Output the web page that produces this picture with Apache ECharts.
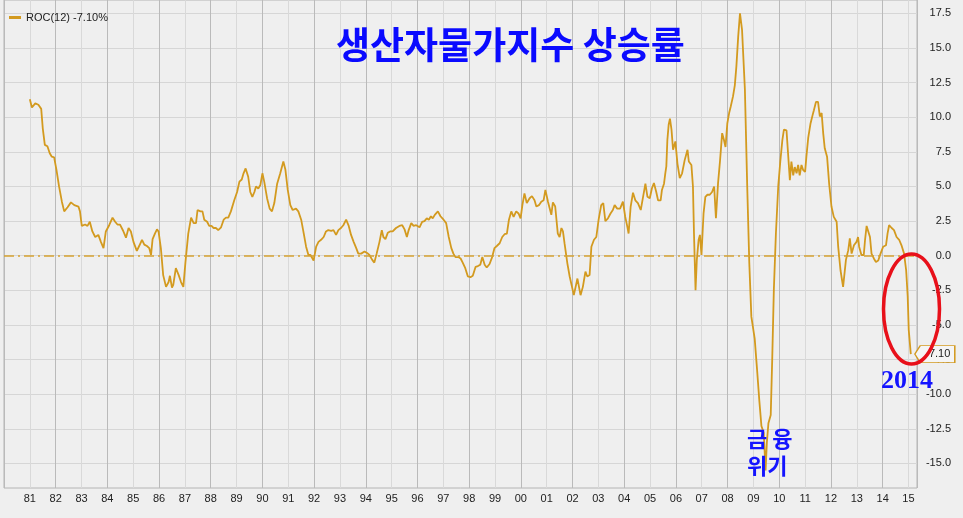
<!DOCTYPE html>
<html>
<head>
<meta charset="utf-8">
<title>생산자물가지수 상승률</title>
<script src="https://cdn.jsdelivr.net/npm/echarts@6/dist/echarts.min.js"></script>
<style>
  html, body { margin: 0; padding: 0; background: #efefef; }
  #chart { width: 963px; height: 518px; }
</style>
</head>
<body>
<div id="chart"></div>
<script>
// 생산자물가지수 ROC(12), 연도(소수) / 값(%)
const years = [
  1981.00, 1981.08, 1981.21, 1981.33, 1981.44, 1981.50, 1981.58, 1981.68, 1981.77, 1981.85, 1981.94,
  1982.03, 1982.13, 1982.24, 1982.33, 1982.46, 1982.59, 1982.72, 1982.88, 1982.94,
  1983.01, 1983.14, 1983.23, 1983.32, 1983.42, 1983.53, 1983.65, 1983.75, 1983.85, 1983.94,
  1984.07, 1984.20, 1984.30, 1984.39, 1984.49, 1984.61, 1984.72, 1984.82, 1984.91,
  1985.01, 1985.14, 1985.23, 1985.34, 1985.43, 1985.53, 1985.62, 1985.69, 1985.75, 1985.84, 1985.92, 1985.98,
  1986.07, 1986.16, 1986.27, 1986.37, 1986.42, 1986.50, 1986.55, 1986.65, 1986.76, 1986.85, 1986.94,
  1987.02, 1987.13, 1987.24, 1987.34, 1987.43, 1987.49, 1987.60, 1987.68, 1987.75, 1987.86, 1987.94,
  1988.03, 1988.11, 1988.20, 1988.29, 1988.40, 1988.50, 1988.59, 1988.68, 1988.78, 1988.91,
  1989.02, 1989.11, 1989.20, 1989.27, 1989.35, 1989.45, 1989.53, 1989.61, 1989.69, 1989.75, 1989.84, 1989.92,
  1990.00, 1990.07, 1990.18, 1990.28, 1990.37, 1990.46, 1990.57, 1990.69, 1990.81, 1990.89, 1990.98,
  1991.08, 1991.17, 1991.30, 1991.39, 1991.50, 1991.60, 1991.69, 1991.78, 1991.86, 1991.91, 1991.98,
  1992.08, 1992.17, 1992.27, 1992.37, 1992.46, 1992.55, 1992.66, 1992.75, 1992.85, 1992.94,
  1993.04, 1993.13, 1993.24, 1993.34, 1993.43, 1993.53, 1993.63, 1993.71, 1993.82, 1993.95,
  1994.05, 1994.14, 1994.25, 1994.33, 1994.42, 1994.53, 1994.62, 1994.68, 1994.76, 1994.85, 1994.94,
  1995.04, 1995.17, 1995.30, 1995.41, 1995.50, 1995.59, 1995.66, 1995.76, 1995.85, 1995.95,
  1996.08, 1996.18, 1996.27, 1996.36, 1996.44, 1996.52, 1996.59, 1996.67, 1996.79, 1996.89,
  1997.01, 1997.11, 1997.21, 1997.31, 1997.39, 1997.47, 1997.58, 1997.67, 1997.75, 1997.85, 1997.95,
  1998.05, 1998.14, 1998.25, 1998.34, 1998.43, 1998.51, 1998.60, 1998.68, 1998.79, 1998.89, 1998.98,
  1999.07, 1999.18, 1999.28, 1999.37, 1999.46, 1999.54, 1999.63, 1999.72, 1999.82, 1999.91, 1999.99,
  2000.06, 2000.14, 2000.23, 2000.34, 2000.43, 2000.53, 2000.60, 2000.70, 2000.79, 2000.88, 2000.95,
  2001.05, 2001.18, 2001.24, 2001.33, 2001.43, 2001.50, 2001.57, 2001.63, 2001.69, 2001.80, 2001.89, 2001.98,
  2002.05, 2002.12, 2002.19, 2002.25, 2002.31, 2002.40, 2002.50, 2002.57, 2002.66, 2002.73, 2002.83, 2002.92,
  2003.01, 2003.11, 2003.19, 2003.27, 2003.37, 2003.47, 2003.56, 2003.63, 2003.73, 2003.84, 2003.95,
  2004.04, 2004.12, 2004.17, 2004.25, 2004.34, 2004.43, 2004.53, 2004.64, 2004.73, 2004.82, 2004.90, 2004.99,
  2005.07, 2005.15, 2005.24, 2005.31, 2005.41, 2005.46, 2005.54, 2005.59, 2005.63, 2005.67, 2005.72, 2005.77, 2005.83, 2005.89, 2005.98,
  2006.06, 2006.15, 2006.24, 2006.34, 2006.45, 2006.50, 2006.60, 2006.66, 2006.70, 2006.76, 2006.81, 2006.88, 2006.93, 2006.99,
  2007.07, 2007.14, 2007.22, 2007.31, 2007.40, 2007.48, 2007.55, 2007.63, 2007.71, 2007.79, 2007.86, 2007.92, 2007.99,
  2008.06, 2008.12, 2008.21, 2008.28, 2008.34, 2008.41, 2008.48, 2008.56, 2008.67, 2008.76, 2008.84, 2008.92,
  2009.05, 2009.14, 2009.23, 2009.31, 2009.40, 2009.47, 2009.52, 2009.58, 2009.67, 2009.73, 2009.79, 2009.87, 2009.96,
  2010.04, 2010.12, 2010.18, 2010.28, 2010.34, 2010.41, 2010.47, 2010.54, 2010.60, 2010.67, 2010.73, 2010.79, 2010.86, 2010.92,
  2011.00, 2011.05, 2011.12, 2011.21, 2011.29, 2011.34, 2011.42, 2011.50, 2011.57, 2011.64, 2011.70, 2011.76, 2011.85, 2011.93,
  2012.02, 2012.11, 2012.22, 2012.28, 2012.37, 2012.47, 2012.58, 2012.67, 2012.73, 2012.80, 2012.89, 2012.99,
  2013.05, 2013.09, 2013.18, 2013.27, 2013.32, 2013.38, 2013.44, 2013.51, 2013.57, 2013.66, 2013.74, 2013.83, 2013.92,
  2014.02, 2014.13, 2014.19, 2014.25, 2014.35, 2014.44, 2014.54, 2014.64, 2014.73, 2014.83, 2014.91, 2014.97,
  2015.01, 2015.09
]
const roc = [
  11.3, 10.7, 11.0, 10.9, 10.6, 9.2, 8.0, 7.9, 7.4, 7.15, 7.1,
  6.2, 5.0, 3.9, 3.2, 3.5, 3.85, 3.65, 3.55, 3.2,
  2.15, 2.25, 2.15, 2.45, 1.75, 1.35, 1.5, 1.0, 0.55, 1.75,
  2.2, 2.75, 2.45, 2.25, 2.25, 1.8, 1.3, 2.0, 1.75,
  1.0, 0.35, 0.7, 1.15, 0.8, 0.7, 0.55, 0.05, 1.2, 1.6, 1.9, 1.75,
  0.55, -1.4, -2.25, -1.9, -1.45, -2.3, -2.1, -0.9, -1.4, -1.9, -2.25,
  -0.5, 1.6, 2.75, 2.35, 2.35, 3.3, 3.2, 3.2, 2.6, 2.45, 2.15,
  2.15, 2.0, 2.0, 1.85, 2.05, 2.6, 2.75, 2.75, 3.2, 4.0,
  4.6, 5.35, 5.5, 5.95, 6.3, 5.7, 4.6, 4.25, 4.6, 5.0, 4.85, 5.1,
  5.95, 5.35, 4.15, 3.4, 3.2, 3.8, 5.2, 5.95, 6.8, 6.2, 4.75,
  3.65, 3.3, 3.4, 3.2, 2.6, 1.6, 0.65, 0.05, 0.05, 0.15, -0.35,
  0.65, 1.0, 1.15, 1.35, 1.75, 1.85, 1.8, 1.85, 1.5, 1.85,
  2.0, 2.2, 2.6, 2.15, 1.5, 1.0, 0.55, 0.15, 0.15, 0.3,
  0.2, 0.05, -0.3, -0.5, 0.15, 1.0, 1.85, 1.35, 1.2, 1.65, 1.75,
  1.75, 2.0, 2.15, 2.2, 1.9, 1.35, 1.85, 2.35, 2.15, 2.2,
  2.05, 2.45, 2.5, 2.7, 2.6, 2.85, 2.7, 2.95, 3.2, 2.85,
  2.6, 2.35, 1.35, 0.55, 0.15, -0.1, -0.1, -0.2, -0.5, -0.9, -1.5,
  -1.55, -1.45, -0.8, -0.75, -0.65, -0.1, -0.65, -0.85, -0.6, -0.1, 0.55,
  0.7, 0.9, 1.35, 1.55, 1.6, 2.6, 3.2, 2.8, 3.2, 3.05, 2.7,
  3.65, 4.5, 3.8, 4.15, 4.3, 4.0, 3.55, 3.65, 3.9, 4.0, 4.75,
  3.9, 2.95, 3.85, 3.55, 1.6, 1.35, 2.0, 1.75, 0.9, -0.55, -1.5, -2.25,
  -2.85, -2.25, -1.65, -2.25, -2.85, -2.25, -1.15, -1.5, -1.4, 0.65, 1.15, 1.35,
  2.6, 3.65, 3.8, 2.5, 2.7, 3.05, 3.3, 3.65, 3.4, 3.4, 3.9,
  2.8, 2.1, 1.6, 3.55, 4.55, 4.0, 3.8, 3.3, 4.25, 5.2, 4.25, 4.15,
  4.85, 5.25, 4.6, 4.0, 4.0, 4.75, 5.2, 5.95, 6.45, 8.35, 9.45, 9.9, 9.1, 7.65, 8.25,
  6.65, 5.6, 5.95, 6.9, 7.65, 6.8, 6.55, 5.0, 1.6, -2.5, -0.3, 1.15, 1.5, 0.05,
  3.05, 4.25, 4.4, 4.4, 4.6, 5.0, 2.7, 5.2, 6.9, 8.85, 8.35, 7.85, 9.55,
  10.3, 10.75, 11.5, 12.3, 13.65, 15.8, 17.5, 16.3, 12.0, 5.0, -0.5, -4.4,
  -6.0, -8.2, -10.5, -12.3, -12.8, -15.5, -13.5, -12.1, -11.5, -7.3, -2.5, 1.6, 5.0,
  6.8, 8.35, 9.1, 9.05, 7.4, 5.45, 6.8, 5.8, 6.4, 5.95, 6.55, 5.8, 6.55, 6.2,
  6.05, 7.15, 8.5, 9.55, 10.15, 10.5, 11.1, 11.1, 10.05, 10.3, 8.85, 7.75, 7.15, 5.2,
  3.55, 2.8, 2.45, 0.65, -1.05, -2.25, -0.3, 0.4, 1.25, 0.15, 0.75, 1.0,
  1.35, 0.65, 0.05, 0.05, 1.15, 2.15, 2.2, 1.35, 0.15, -0.2, -0.45, -0.35, 0.15,
  0.65, 0.75, 1.6, 2.2, 2.0, 1.85, 1.35, 1.15, 0.75, 0.15, -1.05, -2.95,
  -5.35, -7.1
]

const lastValue = roc[roc.length - 1]
const lastText = lastValue.toFixed(2)
const seriesName = 'ROC(12) ' + lastText + '%'
const lineColor = '#d39a1f'

const chart = echarts.init(document.getElementById('chart'), null, { renderer: 'canvas' })

chart.setOption({
  animation: false,
  backgroundColor: '#efefef',
  title: {
    text: '생산자물가지수 상승률',
    left: 331,
    top: 21,
    textStyle: {
      color: '#0a0aff',
      fontSize: 37,
      fontWeight: 'bold',
      fontFamily: 'Noto Sans CJK KR'
    }
  },
  legend: {
    data: [seriesName],
    left: 4,
    top: 7,
    icon: 'rect',
    itemWidth: 12,
    itemHeight: 3,
    itemGap: 4,
    textStyle: { fontSize: 11, color: '#222', fontFamily: 'Liberation Sans' }
  },
  grid: [
    // 선이 그려지는 영역 (세로 격자, x축)
    { left: 4, right: 46, top: 0, height: 488, show: true, backgroundColor: '#efefef', borderColor: '#b4b4b4', borderWidth: 1 },
    // 가로 격자와 오른쪽 눈금 (-15 ~ 17.5)
    { left: 4, right: 46, top: 13.33, height: 450.1 }
  ],
  xAxis: [
    {
      gridIndex: 0,
      type: 'value',
      min: 1980,
      max: 2015.33,
      interval: 1,
      axisLine: { show: false, onZero: false },
      axisTick: { show: false },
      axisLabel: {
        color: '#222',
        fontSize: 11,
        margin: 5,
        fontFamily: 'Liberation Sans Narrow, Liberation Sans',
        hideOverlap: false,
        formatter: v => (Number.isInteger(v) && v > 1980) ? String(v % 100).padStart(2, '0') : ''
      },
      splitLine: { show: true, lineStyle: { color: '#d9d9d9', width: 1 } }
    },
    {
      // 짝수 해의 진한 세로선
      gridIndex: 0,
      type: 'value',
      min: 1980,
      max: 2015.33,
      interval: 2,
      axisLine: { show: false, onZero: false },
      axisTick: { show: false },
      axisLabel: { show: false },
      splitLine: { show: true, lineStyle: { color: '#bababa', width: 1 } }
    },
    { gridIndex: 1, type: 'value', min: 1980, max: 2015.33, show: false }
  ],
  yAxis: [
    { gridIndex: 0, type: 'value', min: -16.77, max: 18.46, show: false },
    {
      gridIndex: 1,
      type: 'value',
      position: 'right',
      min: -15,
      max: 17.5,
      interval: 2.5,
      axisLine: { show: false, onZero: false },
      axisTick: { show: false },
      axisLabel: {
        align: 'right',
        margin: 34,
        color: '#222',
        fontSize: 11,
        fontFamily: 'Liberation Sans',
        formatter: v => v.toFixed(1)
      },
      splitLine: { show: true, lineStyle: { color: '#d6d6d6', width: 1 } }
    }
  ],
  series: [{
    name: seriesName,
    type: 'line',
    xAxisIndex: 0,
    yAxisIndex: 0,
    data: years.map((y, i) => [y, roc[i]]),
    symbol: 'none',
    z: 3,
    itemStyle: { color: lineColor },
    lineStyle: { color: lineColor, width: 1.8 },
    markLine: {
      silent: true,
      symbol: 'none',
      label: { show: false },
      lineStyle: { color: '#d6a332', width: 1.5, type: [10, 4, 2, 4] },
      data: [{ yAxis: 0 }]
    },
    markPoint: {
      silent: true,
      symbol: 'path://M0,8 L6,0 L44,0 L44,16 L6,16 Z',
      symbolSize: [40, 17],
      symbolKeepAspect: false,
      symbolOffset: [24, 0],
      itemStyle: { color: '#f5f5f5', borderColor: '#d39a1f', borderWidth: 1 },
      label: { show: true, formatter: lastText, color: '#222', fontSize: 11, offset: [3, 0], fontFamily: 'Liberation Sans' },
      data: [{ coord: [years[years.length - 1], lastValue] }]
    }
  }],
  graphic: [
    {
      type: 'ellipse',
      z: 100,
      shape: { cx: 911.5, cy: 309, rx: 28, ry: 55 },
      style: { fill: null, stroke: '#e8101a', lineWidth: 3.5 }
    },
    {
      type: 'text',
      z: 100,
      left: 881,
      top: 368,
      style: { text: '2014', fill: '#1414ff', font: 'bold 26px "Liberation Serif"' }
    },
    {
      type: 'text',
      z: 100,
      left: 747,
      top: 428,
      style: { text: '금 융', fill: '#1414ff', font: 'bold 22px "Noto Sans CJK KR"' }
    },
    {
      type: 'text',
      z: 100,
      left: 747,
      top: 455,
      style: { text: '위기', fill: '#1414ff', font: 'bold 22px "Noto Sans CJK KR"' }
    }
  ]
})
</script>
</body>
</html>
